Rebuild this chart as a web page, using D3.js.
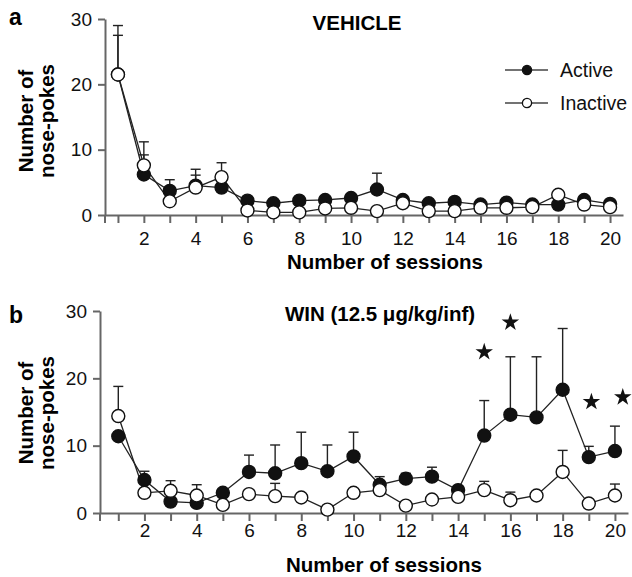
<html>
<head><meta charset="utf-8"></head>
<body style="margin:0;background:white">
<svg id="svg" width="632" height="577"></svg>
<script src="https://cdn.jsdelivr.net/npm/d3@7"></script>
<script>

// sessions 1..20
var sessions = d3.range(1, 21);
var yTicks = [0, 10, 20, 30];

// panel a : vehicle
var vehActive      = [21.5, 6.2, 3.7, 4.5, 4.2, 2.2, 1.8, 2.2, 2.3, 2.6, 3.9, 2.3, 1.8, 2.0, 1.6, 1.9, 1.6, 1.6, 2.3, 1.7];
var vehActiveSem   = [7.5, 3.0, 1.7, 2.5, 0.5, 0.4, 0.3, 0.4, 0.4, 0.4, 2.5, 0.4, 0.3, 0.4, 0.3, 0.3, 0.3, 0.3, 0.4, 0.3];
var vehInactive    = [21.5, 7.6, 2.1, 4.2, 5.8, 0.7, 0.4, 0.4, 1.0, 1.1, 0.6, 1.8, 0.6, 0.6, 1.1, 1.1, 1.2, 3.1, 1.6, 1.2];
var vehInactiveSem = [6.0, 3.6, 0.6, 1.9, 2.2, 0.3, 0.2, 0.2, 0.3, 0.3, 0.2, 0.4, 0.2, 0.2, 0.3, 0.3, 0.3, 0.6, 0.4, 0.3];

// panel b : WIN 12.5 ug/kg/inf
var winActive      = [11.4, 4.9, 1.7, 1.5, 3.0, 6.1, 5.9, 7.4, 6.2, 8.4, 4.2, 5.1, 5.4, 3.4, 11.5, 14.6, 14.2, 18.3, 8.3, 9.2];
var winActiveSem   = [0.6, 1.3, 0.3, 0.3, 0.4, 2.5, 4.2, 4.6, 3.9, 3.6, 1.2, 0.8, 1.4, 0.5, 5.2, 8.6, 9.0, 9.1, 1.6, 3.7];
var winInactive    = [14.4, 3.0, 3.3, 2.6, 1.2, 2.8, 2.5, 2.3, 0.5, 3.0, 3.4, 1.1, 2.0, 2.4, 3.4, 1.9, 2.6, 6.1, 1.4, 2.6];
var winInactiveSem = [4.4, 0.5, 1.5, 1.6, 0.3, 0.4, 1.9, 0.4, 0.3, 0.4, 0.4, 0.3, 0.3, 0.3, 1.3, 1.2, 0.4, 3.2, 0.3, 1.7];

// significance stars (session position, height)
var starSessions = [15, 16, 19.1, 20.3];
var starLevels   = [23.9, 28.3, 16.5, 17.2];

var legendNames = ["Active", "Inactive"];

var font = "'Liberation Sans', Arial, Helvetica, sans-serif";
var svg = d3.select("#svg");

function panel(cfg) {
  var g = svg.append("g");
  var x = d3.scaleLinear().domain(cfg.xDomain).range(cfg.xRange);
  var y = d3.scaleLinear().domain([0, 30]).range([cfg.y0, cfg.y30]);

  // axes
  var ya = g.append("g").attr("transform", "translate(" + cfg.yAxisX + ",0)")
    .call(d3.axisLeft(y).tickValues(yTicks).tickSize(7).tickSizeOuter(0).tickPadding(6));
  var xa = g.append("g").attr("transform", "translate(0," + cfg.y0 + ")")
    .call(d3.axisBottom(x).tickValues(sessions).tickSize(8).tickSizeOuter(0).tickPadding(cfg.xPad)
      .tickFormat(d => d % 2 === 0 ? d : ""));
  g.append("line")
    .attr("x1", cfg.yAxisX).attr("x2", cfg.yAxisX)
    .attr("y1", cfg.y0).attr("y2", cfg.y0 + 8)
    .attr("stroke", "#666").attr("stroke-width", 2);
  g.append("line")
    .attr("x1", cfg.yAxisX).attr("x2", cfg.xRange[0])
    .attr("y1", cfg.y0).attr("y2", cfg.y0)
    .attr("stroke", "#666").attr("stroke-width", 2);
  [ya, xa].forEach(a => {
    a.selectAll("path, line").attr("stroke", "#666").attr("stroke-width", 2);
    a.selectAll("text").attr("font-family", font).attr("font-size", 19).attr("fill", "#111");
  });

  var series = [
    {vals: cfg.active, sem: cfg.activeSem, fill: "#111"},
    {vals: cfg.inactive, sem: cfg.inactiveSem, fill: "#fff"}
  ];

  // error bars (upper only)
  series.forEach(s => {
    var eb = g.append("g").attr("stroke", "#222").attr("stroke-width", 1.4);
    eb.selectAll("line.v").data(sessions).join("line").classed("v", true)
      .attr("x1", d => x(d)).attr("x2", d => x(d))
      .attr("y1", (d, i) => y(s.vals[i])).attr("y2", (d, i) => y(s.vals[i] + s.sem[i]));
    eb.selectAll("line.c").data(sessions).join("line").classed("c", true)
      .attr("x1", d => x(d) - 5).attr("x2", d => x(d) + 5)
      .attr("y1", (d, i) => y(s.vals[i] + s.sem[i])).attr("y2", (d, i) => y(s.vals[i] + s.sem[i]));
  });

  // lines
  series.forEach(s => {
    g.append("path")
      .datum(sessions)
      .attr("fill", "none").attr("stroke", "#222").attr("stroke-width", 1.3)
      .attr("d", d3.line().x(d => x(d)).y((d, i) => y(s.vals[i])));
  });

  // markers
  series.forEach(s => {
    g.append("g").selectAll("circle").data(sessions).join("circle")
      .attr("cx", d => x(d)).attr("cy", (d, i) => y(s.vals[i]))
      .attr("r", 6.5)
      .attr("fill", s.fill).attr("stroke", "#111").attr("stroke-width", 1.4);
  });

  // panel letter
  g.append("text").attr("x", 9).attr("y", cfg.letterY)
    .attr("font-family", font).attr("font-weight", "bold").attr("font-size", 23)
    .text(cfg.letter);

  // title
  g.append("text").attr("x", cfg.titleX).attr("y", cfg.titleY)
    .attr("text-anchor", "middle")
    .attr("font-family", font).attr("font-weight", "bold").attr("font-size", 20.5)
    .text(cfg.title);

  // y label
  var yl = g.append("text")
    .attr("transform", "translate(0," + cfg.yLabelY + ") rotate(-90)")
    .attr("text-anchor", "middle")
    .attr("font-family", font).attr("font-weight", "bold").attr("font-size", 20.5);
  yl.append("tspan").attr("x", 0).attr("y", 33).text("Number of");
  yl.append("tspan").attr("x", 0).attr("y", 54).text("nose-pokes");

  // x label
  g.append("text").attr("x", cfg.xLabelX).attr("y", cfg.xLabelY)
    .attr("text-anchor", "middle")
    .attr("font-family", font).attr("font-weight", "bold").attr("font-size", 20.5)
    .text("Number of sessions");

  return {g: g, x: x, y: y};
}

var pa = panel({
  xDomain: [0.5, 20.5], xRange: [105, 623], yAxisX: 105, y0: 215, y30: 19, xPad: 9,
  active: vehActive, activeSem: vehActiveSem, inactive: vehInactive, inactiveSem: vehInactiveSem,
  letter: "a", letterY: 25, title: "VEHICLE", titleX: 357, titleY: 30,
  yLabelY: 121, xLabelX: 385, xLabelY: 269
});

var pb = panel({
  xDomain: [0.3, 20.5], xRange: [100, 628], yAxisX: 100, y0: 513, y30: 311, xPad: 3,
  active: winActive, activeSem: winActiveSem, inactive: winInactive, inactiveSem: winInactiveSem,
  letter: "b", letterY: 323, title: "WIN (12.5 \u03BCg/kg/inf)", titleX: 380, titleY: 321,
  yLabelY: 413, xLabelX: 384, xLabelY: 572
});

// legend (panel a)
var leg = svg.append("g").selectAll("g").data(legendNames).join("g")
  .attr("transform", (d, i) => "translate(505," + (70 + i * 33) + ")");
leg.append("line").attr("x1", 0).attr("x2", 43).attr("stroke", "#444").attr("stroke-width", 1.6);
leg.append("circle").attr("cx", 22).attr("r", 4.6)
  .attr("fill", (d, i) => i === 0 ? "#111" : "#fff").attr("stroke", "#111").attr("stroke-width", 1.3);
leg.append("text").attr("x", 55).attr("dy", "0.36em")
  .attr("font-family", font).attr("font-size", 19.5).attr("fill", "#111")
  .text(d => d);

// stars (panel b)
pb.g.append("g").selectAll("path").data(starSessions).join("path")
  .attr("transform", (d, i) => "translate(" + pb.x(d) + "," + pb.y(starLevels[i]) + ")")
  .attr("d", d3.symbol(d3.symbolStar, 95))
  .attr("fill", "#111");

</script>
</body>
</html>
